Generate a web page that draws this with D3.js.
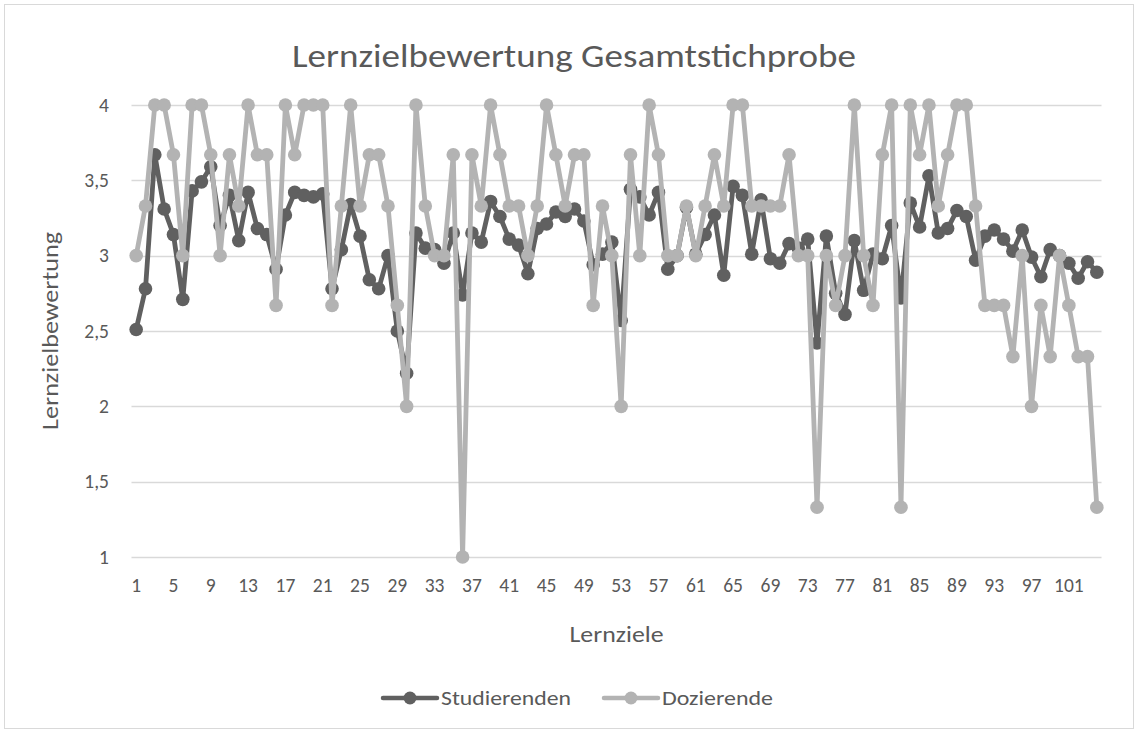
<!DOCTYPE html>
<html lang="de">
	<head>
		<meta charset="utf-8">
		<title>Lernzielbewertung Gesamtstichprobe</title>
		<script type="text/javascript" src="https://cdn.jsdelivr.net/npm/d3@7"></script>
		<style type="text/css">
			html, body {
				margin: 0;
				padding: 0;
				background-color: white;
			}
			svg text {
				font-family: Carlito, Calibri, Lato, "Noto Sans", sans-serif;
				fill: #595959;
			}
		</style>
	</head>
	<body>
		<script type="text/javascript">

			// Lernziele 1..104
			var lernziele = d3.range(1, 105);

			var studierenden = [
				2.51, 2.78, 3.67, 3.31, 3.14, 2.71, 3.43, 3.49, 3.59, 3.20,
				3.40, 3.10, 3.42, 3.18, 3.14, 2.91, 3.27, 3.42, 3.40, 3.39,
				3.41, 2.78, 3.04, 3.34, 3.13, 2.84, 2.78, 3.00, 2.50, 2.22,
				3.15, 3.05, 3.04, 2.95, 3.15, 2.74, 3.15, 3.09, 3.36, 3.26,
				3.11, 3.07, 2.88, 3.18, 3.21, 3.29, 3.26, 3.31, 3.23, 2.94,
				3.01, 3.09, 2.57, 3.44, 3.39, 3.27, 3.42, 2.91, 3.00, 3.32,
				3.01, 3.14, 3.27, 2.87, 3.46, 3.40, 3.01, 3.37, 2.98, 2.95,
				3.08, 3.05, 3.11, 2.42, 3.13, 2.75, 2.61, 3.10, 2.77, 3.01,
				2.98, 3.20, 2.72, 3.35, 3.19, 3.53, 3.15, 3.18, 3.30, 3.26,
				2.97, 3.13, 3.17, 3.11, 3.03, 3.17, 2.99, 2.86, 3.04, 3.00,
				2.95, 2.85, 2.96, 2.89
			];

			var dozierende = [
				3.00, 3.33, 4.00, 4.00, 3.67, 3.00, 4.00, 4.00, 3.67, 3.00,
				3.67, 3.33, 4.00, 3.67, 3.67, 2.67, 4.00, 3.67, 4.00, 4.00,
				4.00, 2.67, 3.33, 4.00, 3.33, 3.67, 3.67, 3.33, 2.67, 2.00,
				4.00, 3.33, 3.00, 3.00, 3.67, 1.00, 3.67, 3.33, 4.00, 3.67,
				3.33, 3.33, 3.00, 3.33, 4.00, 3.67, 3.33, 3.67, 3.67, 2.67,
				3.33, 3.00, 2.00, 3.67, 3.00, 4.00, 3.67, 3.00, 3.00, 3.33,
				3.00, 3.33, 3.67, 3.33, 4.00, 4.00, 3.33, 3.33, 3.33, 3.33,
				3.67, 3.00, 3.00, 1.33, 3.00, 2.67, 3.00, 4.00, 3.00, 2.67,
				3.67, 4.00, 1.33, 4.00, 3.67, 4.00, 3.33, 3.67, 4.00, 4.00,
				3.33, 2.67, 2.67, 2.67, 2.33, 3.00, 2.00, 2.67, 2.33, 3.00,
				2.67, 2.33, 2.33, 1.33
			];

			var yTicks = [1, 1.5, 2, 2.5, 3, 3.5, 4];
			var xTickLabels = d3.range(1, 105, 4);

			var seriesNames = ["Studierenden", "Dozierende"];
			var seriesColors = ["#606060", "#b3b3b3"];

			var w = 1138;
			var h = 733;
			var plotLeft = 131.5;
			var plotRight = 1101.5;
			var plotTop = 105;
			var plotBottom = 557;

			var svg = d3.select("body")
						.append("svg")
						.attr("width", w)
						.attr("height", h);

			// chart border
			svg.append("rect")
				.attr("x", 4.5)
				.attr("y", 4.5)
				.attr("width", w - 9)
				.attr("height", h - 9)
				.attr("fill", "white")
				.attr("stroke", "#d9d9d9");

			var xScale = d3.scaleBand()
							.domain(lernziele)
							.range([plotLeft, plotRight]);

			var yScale = d3.scaleLinear()
							.domain([1, 4])
							.range([plotBottom, plotTop]);

			var fmt = function(d) {
				return String(d).replace(".", ",");
			};

			// horizontal grid lines
			svg.append("g")
				.selectAll("line")
				.data(yTicks)
				.enter()
				.append("line")
				.attr("x1", plotLeft)
				.attr("x2", plotRight)
				.attr("y1", function(d) { return Math.round(yScale(d)) + 0.5; })
				.attr("y2", function(d) { return Math.round(yScale(d)) + 0.5; })
				.attr("stroke", "#d9d9d9")
				.attr("stroke-width", 1.3);

			// y axis labels
			var yAxis = d3.axisLeft(yScale)
							.tickValues(yTicks)
							.tickFormat(fmt)
							.tickSize(0)
							.tickPadding(0);

			svg.append("g")
				.attr("class", "axis")
				.attr("transform", "translate(109,0)")
				.call(yAxis)
				.call(function(g) { g.select(".domain").remove(); })
				.selectAll("text")
				.style("font-size", "19.5px")
				.attr("fill", "#595959");

			// x axis labels
			var xAxis = d3.axisBottom(xScale)
							.tickValues(xTickLabels)
							.tickSize(0)
							.tickPadding(0);

			svg.append("g")
				.attr("class", "axis")
				.attr("transform", "translate(0,578)")
				.call(xAxis)
				.call(function(g) { g.select(".domain").remove(); })
				.selectAll("text")
				.style("font-size", "19.5px")
				.attr("fill", "#595959");

			var line = d3.line()
						.x(function(d, i) { return xScale(lernziele[i]) + xScale.bandwidth() / 2; })
						.y(function(d) { return yScale(d); });

			var allSeries = [studierenden, dozierende];

			allSeries.forEach(function(values, s) {
				var g = svg.append("g").attr("class", "series");

				g.append("path")
					.datum(values)
					.attr("d", line)
					.attr("fill", "none")
					.attr("stroke", seriesColors[s])
					.attr("stroke-width", 4.8)
					.attr("stroke-linejoin", "round");

				g.selectAll("circle")
					.data(values)
					.enter()
					.append("circle")
					.attr("cx", function(d, i) { return xScale(lernziele[i]) + xScale.bandwidth() / 2; })
					.attr("cy", function(d) { return yScale(d); })
					.attr("r", 6.8)
					.attr("fill", seriesColors[s]);
			});

			// title
			svg.append("text")
				.text("Lernzielbewertung Gesamtstichprobe")
				.attr("x", 574)
				.attr("y", 67)
				.attr("text-anchor", "middle")
				.attr("textLength", 564)
				.attr("lengthAdjust", "spacingAndGlyphs")
				.style("font-size", "32px");

			// axis titles
			svg.append("text")
				.text("Lernziele")
				.attr("x", (plotLeft + plotRight) / 2)
				.attr("y", 642)
				.attr("text-anchor", "middle")
				.attr("textLength", 94)
				.attr("lengthAdjust", "spacingAndGlyphs")
				.style("font-size", "22px");

			svg.append("text")
				.text("Lernzielbewertung")
				.attr("transform", "translate(58,331) rotate(-90)")
				.attr("text-anchor", "middle")
				.attr("textLength", 198)
				.attr("lengthAdjust", "spacingAndGlyphs")
				.style("font-size", "22px");

			// legend
			var legendX = [383, 604];
			var legendTextLen = [130, 111];
			seriesNames.forEach(function(name, s) {
				var lg = svg.append("g")
							.attr("transform", "translate(" + legendX[s] + ",698)");
				lg.append("line")
					.attr("x1", 0)
					.attr("x2", 54)
					.attr("y1", 0)
					.attr("y2", 0)
					.attr("stroke", seriesColors[s])
					.attr("stroke-width", 4.5)
					.attr("stroke-linecap", "round");
				lg.append("circle")
					.attr("cx", 27)
					.attr("cy", 0)
					.attr("r", 6.5)
					.attr("fill", seriesColors[s]);
				lg.append("text")
					.text(name)
					.attr("x", 58)
					.attr("y", 7)
					.attr("textLength", legendTextLen[s])
					.attr("lengthAdjust", "spacingAndGlyphs")
					.style("font-size", "20px");
			});

		</script>
	</body>
</html>
